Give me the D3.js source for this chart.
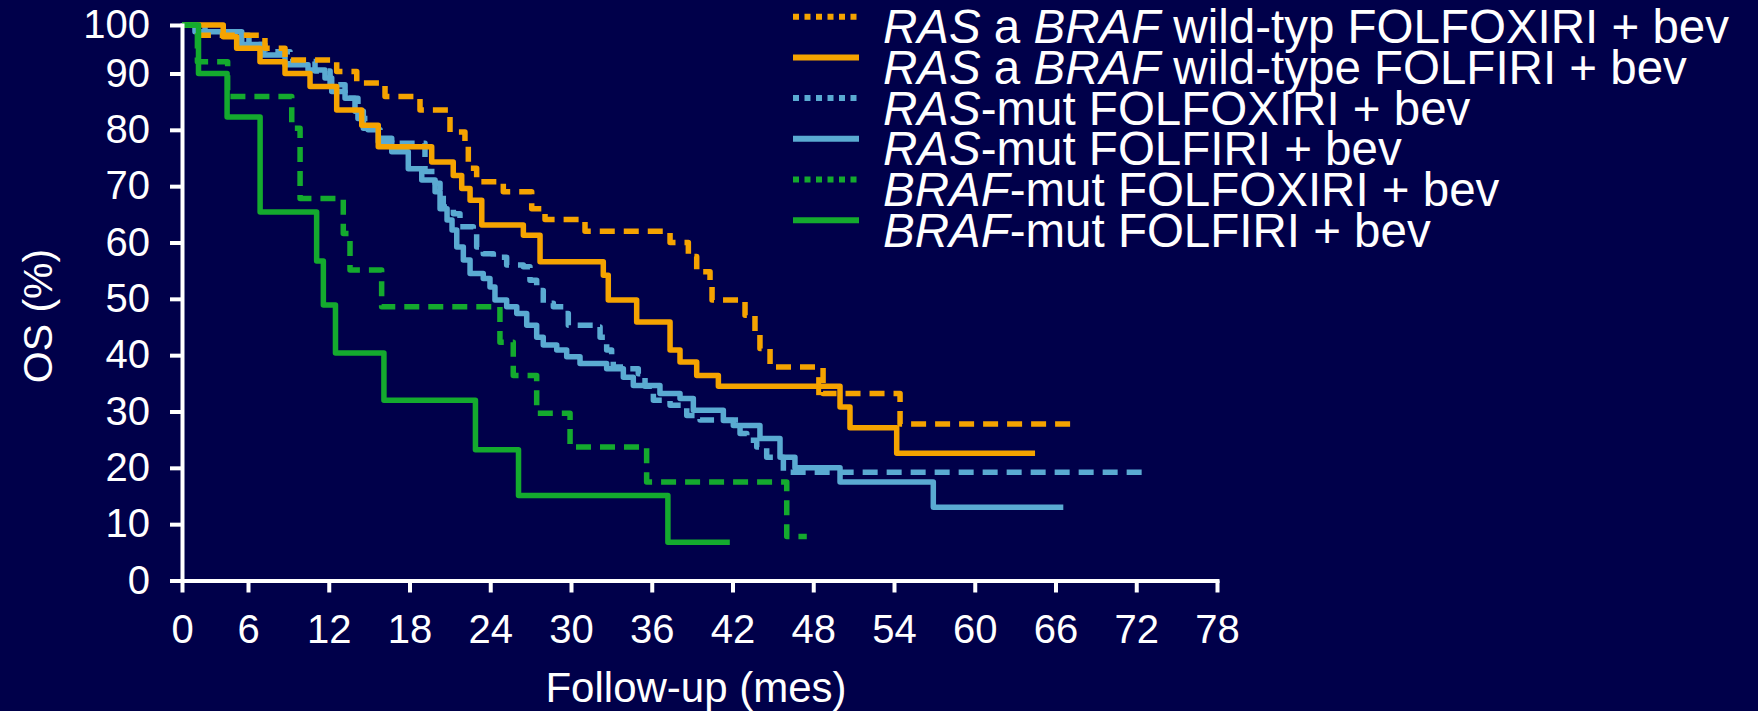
<!DOCTYPE html>
<html><head><meta charset="utf-8">
<script src="https://cdn.jsdelivr.net/npm/d3@7/dist/d3.min.js"></script>
<style>
body{margin:0;background:#00004a;}
svg{display:block;}
</style>
</head><body>
<svg id="chart" width="1758" height="711"></svg>
<script>
// ---- tick labels ----
const xTicks = [0, 6, 12, 18, 24, 30, 36, 42, 48, 54, 60, 66, 72, 78];
const yTicks = [0, 10, 20, 30, 40, 50, 60, 70, 80, 90, 100];
const xTitle = "Follow-up (mes)";
const yTitle = "OS (%)";

// ---- series: event times (months) and survival (%) after each step ----
// RAS a BRAF wild-typ FOLFOXIRI + bev (orange dashed)
const wtFoxTime = [1.45, 7.26, 8.75, 12.59, 14.08, 16.18, 18.78, 21.01, 22.12, 22.37, 22.99, 24.97, 27.08, 28.07, 31.04, 37.36, 38.72, 39.34, 40.33, 40.48, 42.93, 43.67, 44.04, 44.79, 48.73, 54.45];
const wtFoxSurv = [97.9, 95.2, 92.8, 90.4, 88.3, 85.9, 83.5, 79.6, 77.6, 73.2, 70.8, 69.0, 66.0, 64.1, 62.0, 60.0, 57.5, 54.8, 52.6, 49.8, 47.1, 44.1, 41.2, 37.9, 33.2, 27.8];
const wtFoxEnd = 67.6;

// RAS a BRAF wild-type FOLFIRI + bev (orange solid)
const wtFiriTime = [3.75, 4.97, 6.89, 8.75, 10.61, 12.59, 14.45, 15.68, 19.65, 21.25, 21.88, 22.5, 23.37, 26.46, 27.7, 32.4, 32.77, 34.88, 37.36, 38.1, 39.34, 40.95, 49.99, 50.73, 54.2];
const wtFiriSurv = [97.6, 95.2, 92.4, 90.0, 87.7, 83.5, 80.8, 77.0, 74.3, 71.9, 69.6, 67.5, 63.1, 61.3, 56.6, 54.2, 49.8, 45.9, 40.9, 38.8, 36.4, 34.5, 30.8, 27.1, 22.6];
const wtFiriEnd = 64.48;
const wtFiriCensor = [48.4];

// RAS-mut FOLFOXIRI + bev (blue dashed)
const rasFoxTime = [2.09, 6.07, 7.26, 9.12, 10.98, 12.1, 13.21, 14.17, 14.92, 15.81, 16.68, 19.15, 19.9, 20.27, 20.51, 21.26, 21.75, 22.74, 22.99, 23.48, 24.23, 25.22, 26.46, 26.95, 27.45, 27.94, 28.69, 29.43, 29.8, 31.66, 32.16, 32.65, 33.02, 33.14, 34.14, 35.0, 35.5, 36.12, 37.36, 38.6, 39.59, 42.56, 43.06, 43.8, 44.54, 45.78];
const rasFoxSurv = [97.9, 96.0, 94.5, 92.5, 90.5, 88.0, 85.6, 82.0, 80.0, 78.5, 77.6, 72.6, 70.5, 68.7, 66.3, 65.1, 62.8, 62.2, 59.2, 58.0, 57.4, 56.0, 55.7, 53.3, 51.5, 49.2, 48.6, 47.4, 45.3, 45.0, 43.2, 40.9, 39.7, 37.9, 37.6, 36.7, 34.5, 32.0, 31.1, 29.3, 28.5, 26.1, 24.9, 23.7, 21.9, 19.2];
const rasFoxEnd = 72.41;

// RAS-mut FOLFIRI + bev (blue solid)
const rasFiriTime = [1.18, 5.43, 7.04, 8.75, 10.46, 11.72, 12.22, 13.21, 13.95, 14.57, 15.68, 16.68, 17.91, 18.91, 19.9, 20.27, 20.79, 21.16, 21.51, 22.0, 22.5, 23.48, 23.98, 24.35, 25.22, 25.97, 26.71, 27.45, 27.94, 28.94, 29.68, 30.67, 32.65, 33.89, 34.63, 36.61, 38.1, 39.09, 41.32, 42.06, 44.04, 45.53, 46.64, 49.99, 56.92];
const rasFiriSurv = [98.6, 96.0, 93.8, 91.8, 90.7, 89.2, 86.8, 85.6, 83.3, 80.3, 77.9, 76.1, 73.1, 71.1, 69.0, 66.0, 64.0, 62.2, 59.2, 56.9, 54.5, 53.6, 52.1, 49.8, 48.6, 47.4, 45.3, 43.2, 41.8, 40.9, 39.7, 38.5, 37.6, 36.1, 34.6, 33.2, 32.3, 30.2, 28.4, 27.5, 25.2, 21.9, 20.0, 17.5, 13.0];
const rasFiriEnd = 66.58;

// BRAF-mut FOLFOXIRI + bev (green dashed)
const brafFoxTime = [1.4, 4.15, 9.25, 9.87, 13.08, 13.58, 15.93, 24.72, 25.71, 27.45, 29.93, 35.62, 46.03];
const brafFoxSurv = [92.4, 85.9, 80.3, 67.8, 61.6, 55.1, 48.6, 42.3, 36.4, 29.7, 23.7, 17.5, 7.8];
const brafFoxEnd = 47.52;

// BRAF-mut FOLFIRI + bev (green solid)
const brafFiriTime = [1.5, 4.1, 6.9, 11.1, 11.6, 12.5, 16.1, 22.9, 26.1, 37.2];
const brafFiriSurv = [90.0, 82.3, 65.4, 56.7, 48.9, 40.4, 32.0, 23.2, 15.1, 6.8];
const brafFiriEnd = 41.8;

// ---- legend labels (italic parts flagged) ----
const legendLabels = [
  [["RAS", true], [" a ", false], ["BRAF", true], [" wild-typ FOLFOXIRI + bev", false]],
  [["RAS", true], [" a ", false], ["BRAF", true], [" wild-type FOLFIRI + bev", false]],
  [["RAS", true], ["-mut FOLFOXIRI + bev", false]],
  [["RAS", true], ["-mut FOLFIRI + bev", false]],
  [["BRAF", true], ["-mut FOLFOXIRI + bev", false]],
  [["BRAF", true], ["-mut FOLFIRI + bev", false]]
];

const ORANGE = "#f5a300", BLUE = "#5aaad2", GREEN = "#14aa2e";
const series = [
  {time: rasFoxTime, surv: rasFoxSurv, end: rasFoxEnd, color: BLUE, dashed: true, censor: []},
  {time: rasFiriTime, surv: rasFiriSurv, end: rasFiriEnd, color: BLUE, dashed: false, censor: []},
  {time: wtFoxTime, surv: wtFoxSurv, end: wtFoxEnd, color: ORANGE, dashed: true, censor: []},
  {time: wtFiriTime, surv: wtFiriSurv, end: wtFiriEnd, color: ORANGE, dashed: false, censor: wtFiriCensor},
  {time: brafFoxTime, surv: brafFoxSurv, end: brafFoxEnd, color: GREEN, dashed: true, censor: []},
  {time: brafFiriTime, surv: brafFiriSurv, end: brafFiriEnd, color: GREEN, dashed: false, censor: []}
];
const legendStyle = [
  {color: ORANGE, dashed: true}, {color: ORANGE, dashed: false},
  {color: BLUE, dashed: true}, {color: BLUE, dashed: false},
  {color: GREEN, dashed: true}, {color: GREEN, dashed: false}
];

const FONT = "'Liberation Sans', Arial, Helvetica, sans-serif";
const svg = d3.select("#chart");
svg.append("rect").attr("width", 1758).attr("height", 711).attr("fill", "#00004a");

const x = d3.scaleLinear().domain([0, 6, 78]).range([182, 248, 1217]);
const y = d3.scaleLinear().domain([0, 90, 100]).range([580.5, 73.5, 25]);

// curves
const line = d3.line().x(d => x(d[0])).y(d => y(d[1])).curve(d3.curveStepAfter);
series.forEach(s => {
  const pts = [[0, 100]];
  s.time.forEach((t, i) => pts.push([t, s.surv[i]]));
  pts.push([s.end, s.surv[s.surv.length - 1]]);
  svg.append("path")
    .attr("d", line(pts))
    .attr("fill", "none")
    .attr("stroke", s.color)
    .attr("stroke-width", 5.5)
    .attr("stroke-linejoin", "round")
    .attr("stroke-dasharray", s.dashed ? "15,9" : null);
  s.censor.forEach(c => {
    // find level at time c
    let lvl = 100;
    s.time.forEach((t, i) => { if (t <= c) lvl = s.surv[i]; });
    svg.append("line")
      .attr("x1", x(c)).attr("x2", x(c))
      .attr("y1", y(lvl) - 9).attr("y2", y(lvl) + 9)
      .attr("stroke", s.color).attr("stroke-width", 5);
  });
});

// axes
function styleAxis(g) {
  g.attr("font-family", FONT).attr("font-size", 40);
  g.selectAll(".domain").attr("stroke", "#fff").attr("stroke-width", 4).attr("stroke-linecap", "square");
  g.selectAll(".tick line").attr("stroke", "#fff").attr("stroke-width", 4);
  g.selectAll(".tick text").attr("fill", "#fff");
}
const xAxis = svg.append("g")
  .attr("transform", `translate(0,${y(0)})`)
  .call(d3.axisBottom(x).tickValues(xTicks).tickSize(12).tickSizeOuter(0).tickPadding(22));
styleAxis(xAxis);
const yAxis = svg.append("g")
  .attr("transform", `translate(${x(0)},0)`)
  .call(d3.axisLeft(y).tickValues(yTicks).tickSize(12).tickSizeOuter(0).tickPadding(20));
styleAxis(yAxis);

// axis titles
svg.append("text")
  .attr("x", 696).attr("y", 702)
  .attr("text-anchor", "middle")
  .attr("font-family", FONT).attr("font-size", 42).attr("fill", "#fff")
  .text(xTitle);
svg.append("text")
  .attr("transform", "translate(52,316) rotate(-90)")
  .attr("text-anchor", "middle")
  .attr("font-family", FONT).attr("font-size", 41).attr("fill", "#fff")
  .text(yTitle);

// legend
const lg = svg.append("g");
legendLabels.forEach((parts, i) => {
  const ly = 16.7 + 40.7 * i;
  const st = legendStyle[i];
  lg.append("line")
    .attr("x1", 793).attr("x2", 859).attr("y1", ly).attr("y2", ly)
    .attr("stroke", st.color).attr("stroke-width", 6)
    .attr("stroke-dasharray", st.dashed ? "6,5.5" : null);
  const t = lg.append("text")
    .attr("x", 883).attr("y", ly + 26.6)
    .attr("font-family", FONT).attr("font-size", 47.5).attr("fill", "#fff");
  parts.forEach(p => {
    t.append("tspan").attr("font-style", p[1] ? "italic" : "normal").text(p[0]);
  });
});
</script>
</body></html>
